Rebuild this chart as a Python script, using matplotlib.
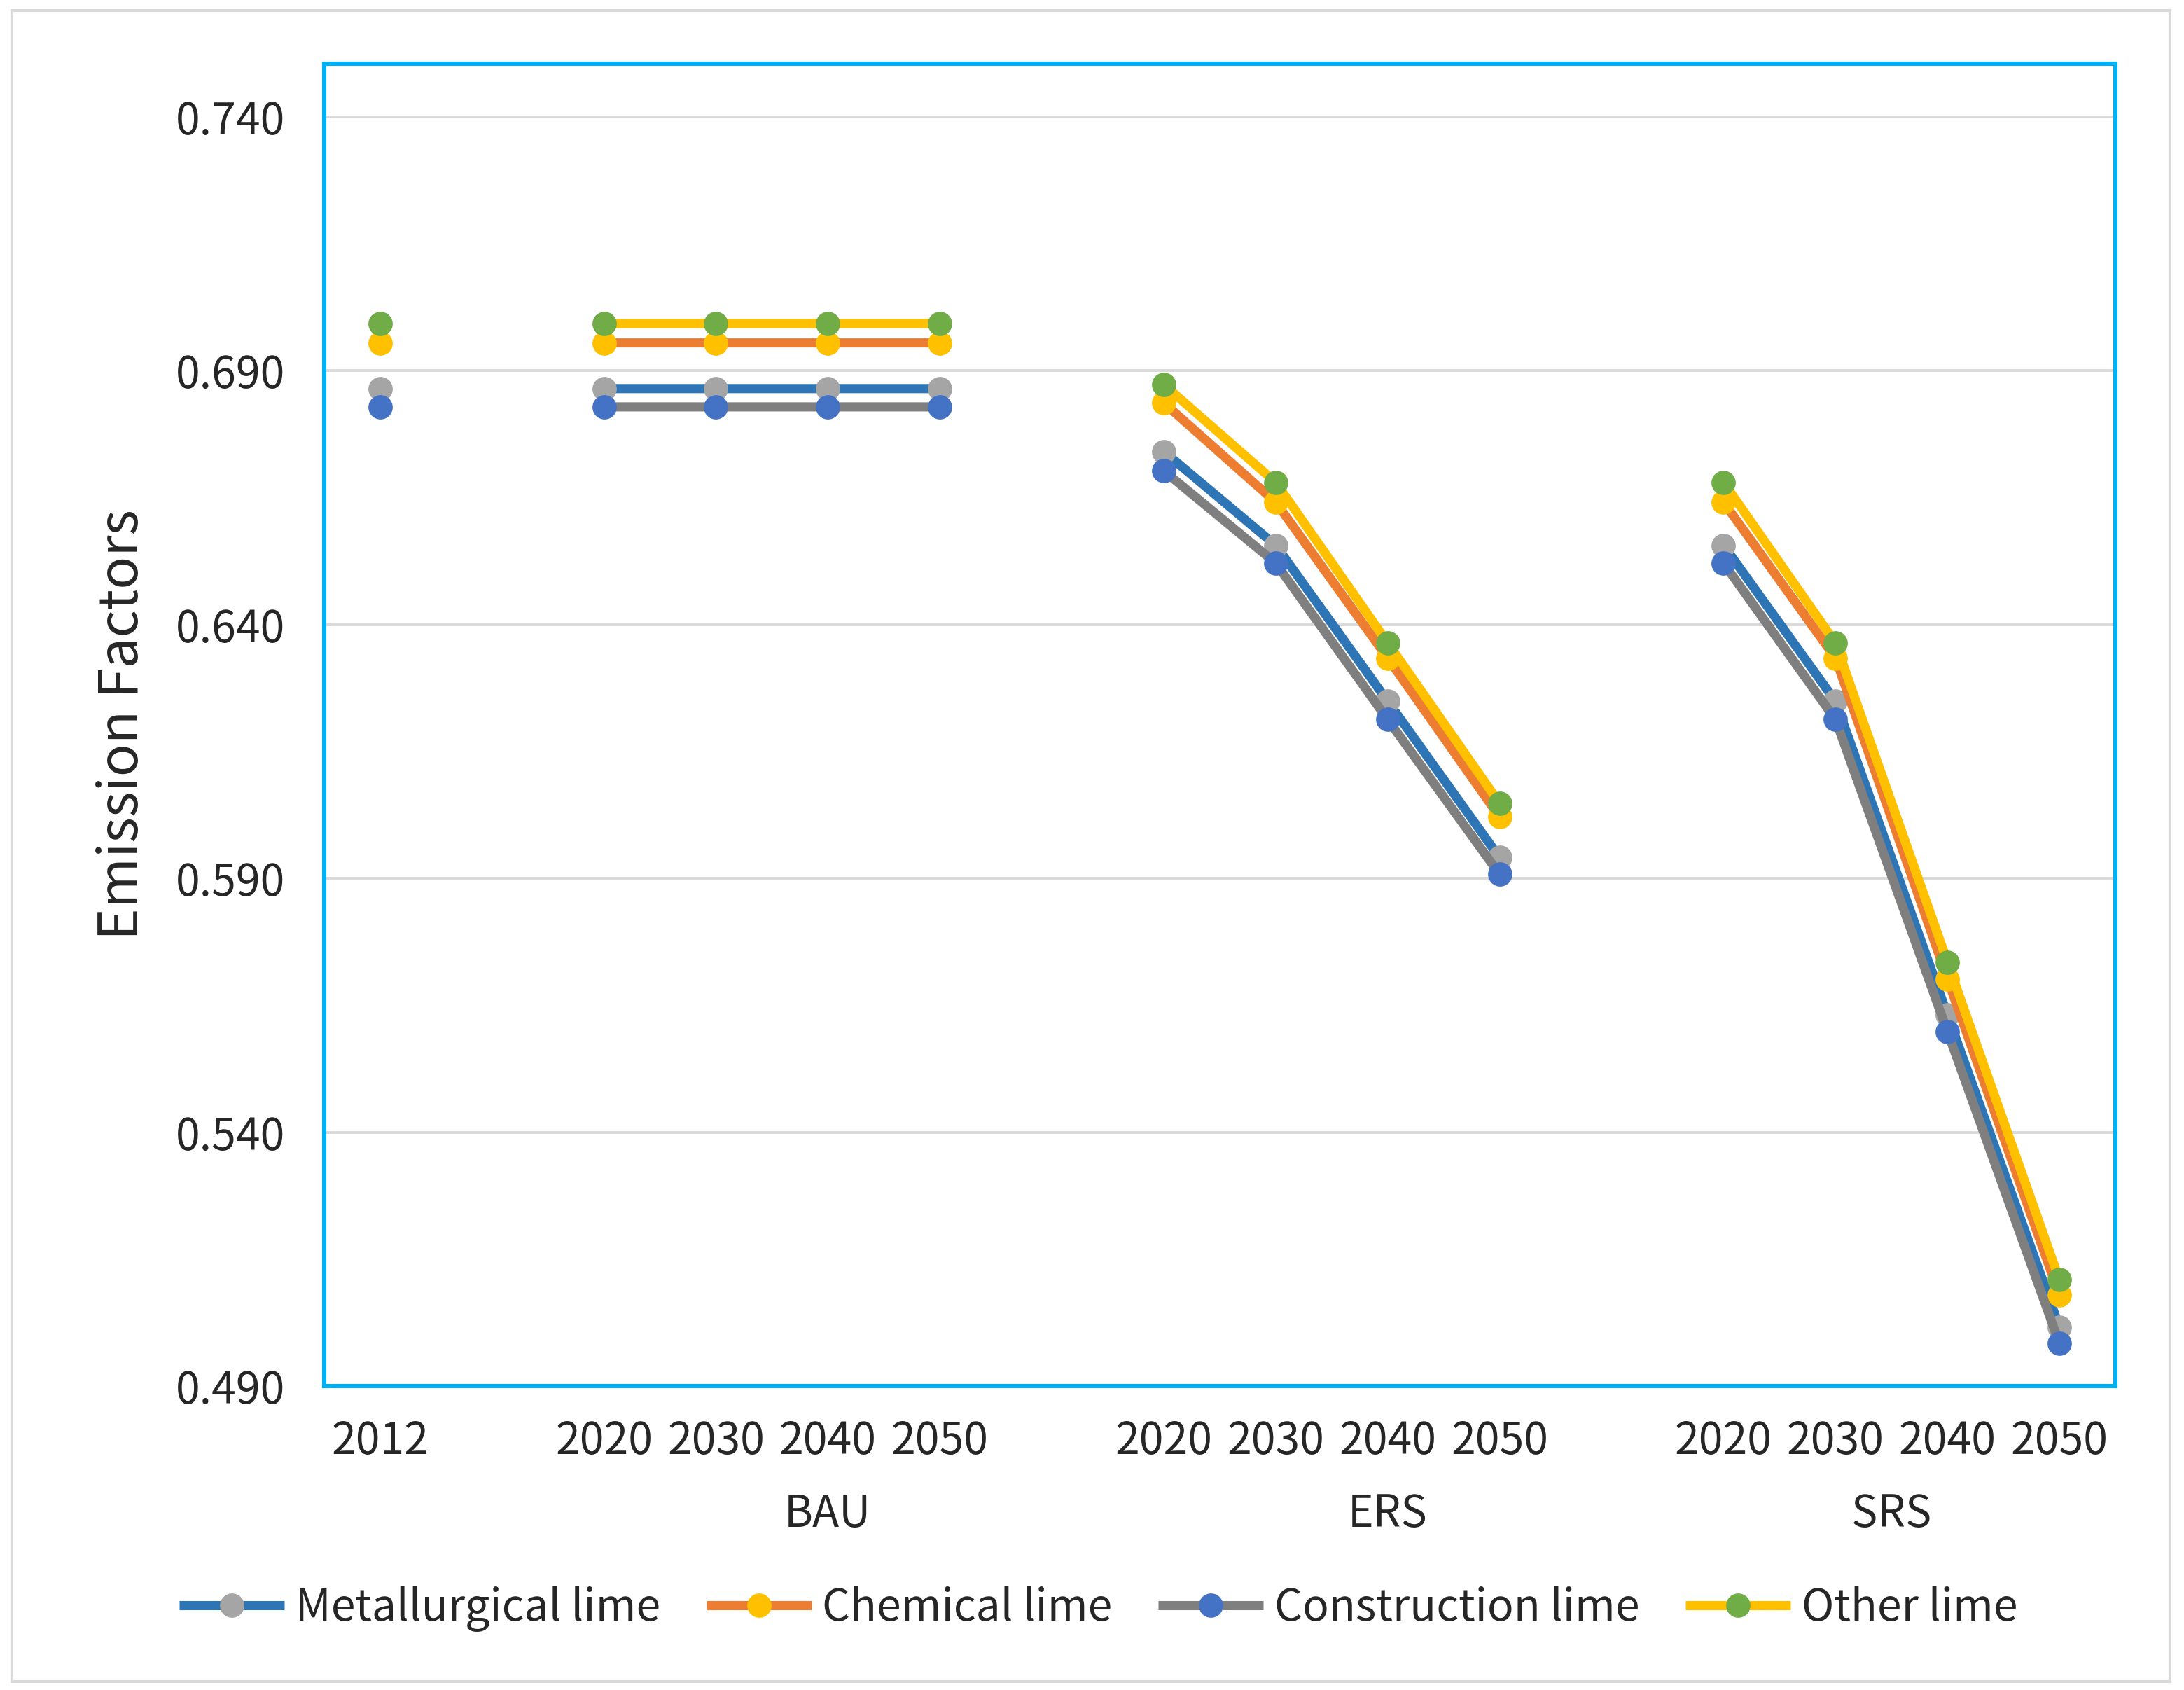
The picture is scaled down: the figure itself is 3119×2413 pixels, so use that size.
import numpy as np
import matplotlib
matplotlib.use("Agg")
import matplotlib.pyplot as plt
from matplotlib.patches import Rectangle
from matplotlib.transforms import blended_transform_factory

plt.rcParams['font.family'] = ['Noto Sans CJK SC', 'DejaVu Sans']

nan = np.nan

# category slots: 2012, gap, BAU x4, gap, ERS x4, gap, SRS x4
tick_labels = ['2012', '', '2020', '2030', '2040', '2050', '',
               '2020', '2030', '2040', '2050', '',
               '2020', '2030', '2040', '2050']
groups = ['BAU', 'ERS', 'SRS']
group_spans = [(2, 6), (7, 11), (12, 15)]

metallurgical = [0.6865, nan, 0.6865, 0.6865, 0.6865, 0.6865, nan,
                 0.6741, 0.6556, 0.6249, 0.5941, nan,
                 0.6556, 0.6249, 0.5631, 0.5016]
chemical = [0.6955, nan, 0.6955, 0.6955, 0.6955, 0.6955, nan,
            0.6837, 0.6641, 0.6334, 0.6021, nan,
            0.6641, 0.6334, 0.5702, 0.5079]
construction = [0.6829, nan, 0.6829, 0.6829, 0.6829, 0.6829, nan,
                0.6703, 0.6521, 0.6213, 0.5908, nan,
                0.6521, 0.6213, 0.5598, 0.4984]
other = [0.6993, nan, 0.6993, 0.6993, 0.6993, 0.6993, nan,
         0.6873, 0.6680, 0.6364, 0.6048, nan,
         0.6680, 0.6364, 0.5735, 0.5109]

series = [
    ('Metallurgical lime', metallurgical, '#2E75B6', '#A5A5A5'),
    ('Chemical lime', chemical, '#ED7D31', '#FFC000'),
    ('Construction lime', construction, '#7F7F7F', '#4472C4'),
    ('Other lime', other, '#FFC000', '#70AD47'),
]

text_col = '#262626'
fs = 22.5

fig = plt.figure(figsize=(15.595, 12.065), dpi=200)
ax = fig.add_axes([0.1484, 0.1799, 0.8202, 0.7824])

x = np.arange(len(tick_labels))
for name, vals, lc, mc in series:
    ax.plot(x, vals, color=lc, lw=4.7, marker='o', markersize=11.5,
            markerfacecolor=mc, markeredgecolor=mc, label=name,
            solid_capstyle='butt')

ax.set_xlim(-0.5, 15.5)
ax.set_ylim(0.490, 0.7505)
ax.set_yticks([0.490, 0.540, 0.590, 0.640, 0.690, 0.740])
ax.set_yticklabels(['{:.3f}'.format(v) for v in ax.get_yticks()])
ax.yaxis.grid(True, color='#D9D9D9', lw=1.4)
ax.set_axisbelow(True)

pos = [i for i, t in enumerate(tick_labels) if t]
ax.set_xticks(pos)
ax.set_xticklabels([tick_labels[i] for i in pos])
ax.tick_params(axis='both', length=0, labelsize=fs, labelcolor=text_col)
ax.tick_params(axis='y', pad=20)
ax.tick_params(axis='x', pad=17)
for t in ax.get_xticklabels() + ax.get_yticklabels():
    t.set_fontweight('light')

trans = blended_transform_factory(ax.transData, ax.transAxes)
for g, (a, b) in zip(groups, group_spans):
    ax.text((a + b) / 2, -0.097, g, transform=trans, ha='center', va='center',
            fontsize=fs, color=text_col, fontweight='light')

ax.set_ylabel('Emission Factors', fontsize=28, color=text_col, fontweight='light')
ax.yaxis.set_label_coords(-0.097, 0.5)

for s in ax.spines.values():
    s.set_color('#00B0F0')
    s.set_linewidth(2.2)

leg = fig.legend(loc='center', bbox_to_anchor=(0.503, 0.048), ncol=4,
                 frameon=False, fontsize=fs, handlelength=2.4,
                 handletextpad=0.25, columnspacing=1.05, numpoints=1)
for t in leg.get_texts():
    t.set_color(text_col)
    t.set_fontweight('light')

fig.patches.append(Rectangle((17 / 3119, 1 - 2401 / 2413), 3082 / 3119, 2386 / 2413,
                             transform=fig.transFigure, fill=False,
                             edgecolor='#D9D9D9', lw=1.5, zorder=0))

fig.savefig('out.png', dpi=200)
